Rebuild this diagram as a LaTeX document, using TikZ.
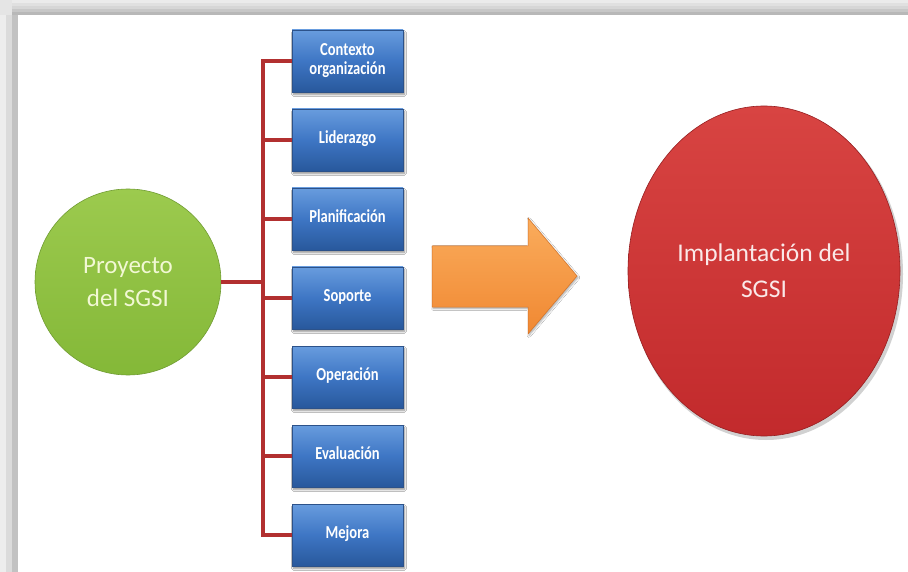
\documentclass[tikz,border=0pt]{standalone}
\usepackage{fontspec}
\usepackage{graphicx}
\setmainfont{Carlito}
\usetikzlibrary{shapes.geometric,shadows.blur}

\definecolor{linkred}{RGB}{178,48,48}
\definecolor{boxtop}{RGB}{104,156,222}
\definecolor{boxmid}{RGB}{62,118,196}
\definecolor{boxbot}{RGB}{40,88,156}
\definecolor{boxedge}{RGB}{44,82,138}
\definecolor{greentop}{RGB}{156,202,78}
\definecolor{greenbot}{RGB}{132,184,56}
\definecolor{greenedge}{RGB}{112,156,50}
\definecolor{greentext}{RGB}{242,248,212}
\definecolor{redtop}{RGB}{216,68,66}
\definecolor{redbot}{RGB}{194,42,44}
\definecolor{rededge}{RGB}{150,30,32}
\definecolor{redtext}{RGB}{250,232,232}
\definecolor{orangetop}{RGB}{250,172,92}
\definecolor{orangebot}{RGB}{240,136,50}
\definecolor{orangeedge}{RGB}{214,116,40}

% narrow, tall lettering for the clause labels
\newcommand{\tallcaption}[1]{\scalebox{0.97}[1.22]{\begin{tabular}{@{}c@{}}#1\end{tabular}}}

\tikzset{
  x=1pt, y=-1pt,
  stage/.style={draw=boxedge, line width=0.6pt,
    top color=boxtop, bottom color=boxbot, middle color=boxmid,
    minimum width=111pt, minimum height=62pt, inner sep=2pt,
    align=center, text=white, font=\bfseries\fontsize{15}{16}\selectfont,
    blur shadow={shadow xshift=1.5pt, shadow yshift=-2.5pt, shadow blur steps=6, shadow opacity=45}},
  link/.style={draw=linkred, line width=3.2pt},
  bigcircle/.style={align=center, inner sep=0pt},
}

\begin{document}
\begin{tikzpicture}
  \useasboundingbox (0,0) rectangle (908,572);
  % panel background and inset edges, built from graded strips
  \fill[white] (0,0) rectangle (908,572);
  \foreach \i/\g in {0/92,3/88,6/84,9/78,12/72}
    \fill[white!\g!black] (0,\i) rectangle (908,\i+3);
  \foreach \i/\g in {0/93,6/86,12/76}
    \fill[white!\g!black] (\i,15) rectangle (\i+6,572);
  \fill[white!90!black] (0,0) rectangle (12,15);

  % project circle
  \node[bigcircle, circle, minimum size=186pt, draw=greenedge, line width=0.6pt,
        top color=greentop, bottom color=greenbot, text=greentext,
        font=\fontsize{25}{33}\selectfont] (proj) at (128,282) {Proyecto\\del SGSI};

  % clause boxes
  \node[stage] (b1) at (347.5,61)  {\tallcaption{Contexto\\organización}};
  \node[stage] (b2) at (347.5,140) {\tallcaption{Liderazgo}};
  \node[stage] (b3) at (347.5,219) {\tallcaption{Planificación}};
  \node[stage] (b4) at (347.5,298) {\tallcaption{Soporte}};
  \node[stage] (b5) at (347.5,377) {\tallcaption{Operación}};
  \node[stage] (b6) at (347.5,456) {\tallcaption{Evaluación}};
  \node[stage] (b7) at (347.5,535) {\tallcaption{Mejora}};

  % bracket connecting the project to the clauses
  \coordinate (bus) at (263,282);
  \draw[link] (proj.east) -- (proj.east -| bus);
  \draw[link, line cap=rect] (b1.west -| bus) -- (b7.west -| bus);
  \foreach \b in {b1,b2,b3,b4,b5,b6,b7}
    \draw[link] (\b.west -| bus) -- (\b.west);

  % transition arrow
  \path[draw=orangeedge, line width=0.5pt, top color=orangetop, bottom color=orangebot,
        blur shadow={shadow xshift=1pt, shadow yshift=-1.5pt, shadow blur steps=5, shadow opacity=35}]
    (432,246) -- (528,246) -- (528,218) -- (577,276) -- (528,334) -- (528,307) -- (432,307) -- cycle;

  % implementation circle with a soft offset shadow
  \fill[black, opacity=0.18] (766,274) ellipse [x radius=137pt, y radius=166pt];
  \node[bigcircle, ellipse, minimum width=272pt, minimum height=330pt, draw=rededge, line width=0.6pt,
        top color=redtop, bottom color=redbot, text=redtext,
        font=\fontsize{25.5}{36}\selectfont]
        (impl) at (764,271) {Implantación del\\SGSI};
\end{tikzpicture}
\end{document}
